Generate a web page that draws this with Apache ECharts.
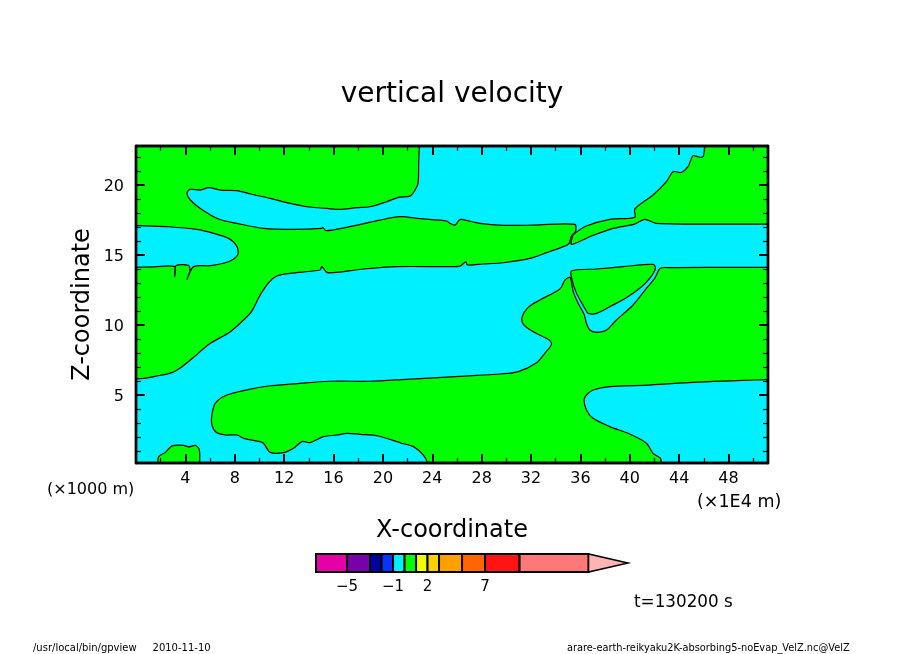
<!DOCTYPE html>
<html>
<head>
<meta charset="utf-8">
<script src="https://cdn.jsdelivr.net/npm/echarts@6/dist/echarts.min.js"></script>
<style>
  html, body { margin: 0; padding: 0; background: #fff; }
  #main { width: 904px; height: 654px; }
</style>
</head>
<body>
<div id="main"></div>
<script>
// axis ticks
var xMajor = [4, 8, 12, 16, 20, 24, 28, 32, 36, 40, 44, 48];
var xMinor = [2, 6, 10, 14, 18, 22, 26, 30, 34, 38, 42, 46, 50];
var zMajor = [5, 10, 15, 20];
var zMinor = [1, 2, 3, 4, 6, 7, 8, 9, 11, 12, 13, 14, 16, 17, 18, 19, 21, 22];

// colour bar
var barLevels = [-7.7, -5, -3, -2, -1, 0, 1, 2, 3, 5, 7, 10, 16];
var barColors = ['#e600a8', '#7a00aa', '#0000a0', '#0a32ff', '#00f0ff', '#00ff00',
  '#f0ff00', '#ffd000', '#ffa000', '#ff6600', '#ff1414', '#ff7878'];
var barTicks = [-5, -1, 2, 7];
var barEnd = 19.43;

// green (positive) regions, [x, z]; the rest of the plot is cyan.
// points on the plot edge run a little past it, the series clips them
var greenUpper = [[-1.5,24.3],[23,24.3],[22.96,22.8],[22.9,21.67],[22.85,20.12],[22.6,19.64],[22.2,19.21],[21.26,19.12],
  [20.31,18.81],[18.96,18.45],[17.89,18.38],[16.54,18.26],[15.46,18.33],[13.84,18.45],[12.22,18.74],
  [10.87,19.05],[9.26,19.36],[8.18,19.6],[6.83,19.64],[5.88,19.81],[5.21,19.64],[4.35,19.69],[4.13,19.4],
  [4.4,18.93],[5.21,18.33],[6.69,17.57],[8.18,17.26],[10.33,16.9],[12.76,16.83],[15.05,16.9],[15.13,16.98],
  [15.4,16.74],[17.08,16.98],[19.77,17.5],[21.39,17.74],[23.01,17.6],[25.17,17.43],[25.44,17.26],[25.84,17.14],
  [26.19,17.5],[26.38,17.55],[27.86,17.26],[29.75,17.12],[32.31,17.14],[35.55,17.19],[35.6,16.67],[35.28,16.36],
  [35.06,15.79],[34.47,15.55],[33.26,15.17],[31.91,14.76],[29.75,14.45],[28.13,14.36],[26.84,14.29],[26.73,14.52],
  [26.25,14.21],[25.44,14.17],[21.12,14.17],[18.43,14],[16,13.74],[15.46,13.76],[15.05,14.17],[14.92,13.93],
  [12.49,13.69],[11.41,13.5],[10.74,13.02],[10.06,12.14],[9.85,11.79],[9.47,11.12],[9.12,10.71],[7.64,9.52],
  [6.02,8.69],[4.67,7.69],[3.73,7.02],[2.92,6.6],[1.7,6.36],[0.63,6.19],[-0.5,6.15],[-1.5,6.15],[-1.5,14.12],[-0.5,14.12],
  [1.5,14.15],[3.13,14.17],[3.13,13.45],[3.24,14.24],[4.27,14.24],[4.35,13.81],[4.13,13.26],[4.67,14.17],[6.02,14.24],[7.5,14.52],
  [8.23,15],[8.18,15.6],[7.5,16.19],[6.29,16.55],[4.94,16.83],[2.65,17.02],[0.8,17.08],[-0.5,17.12],[-1.5,17.15]];

var greenTopRight = [[46.1,24.3],[52.7,24.3],[52.7,17.21],[51.7,17.21],[49.17,17.21],[42.16,17.26],[41.21,17.55],[40.4,17.21],
  [38.65,16.9],[36.76,16.31],[35.28,15.76],[35.36,16.31],[35.55,16.55],[36.49,17.07],[38.38,17.55],[40.4,17.69],
  [40.4,18.26],[40.94,18.69],[41.89,19.29],[42.97,20.24],[43.51,20.95],[44.18,20.9],[44.72,21.31],[45.12,22.1],
  [45.53,22.02],[45.93,22.02],[46.07,22.8]];

var greenLower = [[42.48,14.05],[43.24,14.1],[46.74,14.12],[51.7,14.12],[52.7,14.12],[52.7,6.15],[51.7,6.12],[48.63,6.02],[45.12,5.9],
  [41.62,5.71],[38.38,5.6],[37.03,5.36],[36.49,5],[36.3,4.64],[36.49,3.93],[37.03,3.33],[38.38,2.74],[40,2.21],
  [41.35,1.55],[41.89,0.83],[42.48,0.48],[42.56,0.14],[42.7,-1.3],[24.1,-1.3],[23.63,0.14],[23.28,0.71],[22.47,1.31],[21.53,1.55],
  [19.64,2.07],[18.16,2.19],[17.08,2.26],[16.27,2.14],[15.19,2.02],[14.11,1.6],[13.44,1.67],[12.76,1.19],
  [11.95,0.88],[10.87,0.9],[10.33,1.55],[9.93,1.69],[8.72,1.9],[8.18,2.14],[7.23,2.14],[6.5,2.33],[6.15,2.86],
  [6.15,3.57],[6.42,4.4],[7.23,4.95],[8.99,5.36],[10.74,5.64],[12.76,5.79],[15.73,5.98],[18.96,5.98],[21.93,6.12],
  [26.25,6.33],[27.6,6.4],[29.48,6.5],[30.97,6.67],[32.45,7.31],[33.12,7.98],[33.66,8.62],[33.47,8.93],[32.18,9.52],
  [31.37,10.07],[31.29,10.6],[31.77,11.26],[32.72,11.79],[34.34,12.57],[34.74,13.21],[35.01,13.38],[35.2,13.38],
  [35.42,12.38],[35.82,11.55],[36.3,10.76],[36.49,10.12],[36.76,9.64],[37.3,9.48],[38.11,9.64],[38.92,10.36],
  [40.27,11.43],[41.35,12.62],[42.02,13.33]];

var greenWedge = [[35.28,13.86],[37.3,14],[39.46,14.17],[41.89,14.33],[42.08,14.05],[41.62,13.33],[40.81,12.62],
  [39.73,11.95],[38.38,11.31],[37.3,10.83],[36.63,10.83],[36.44,11.07],[36.17,11.48],[35.69,12.26],[35.33,13.21]];

var greenBottomLeft = [[1.6,-1.3],[1.76,0.14],[1.84,0.6],[2.38,0.9],[2.92,1.36],[3.86,1.4],[4.27,1.29],[4.81,1.4],[5.13,1.07],[5.16,0.14],[5.2,-1.3]];

var regions = [greenUpper, greenTopRight, greenLower, greenWedge, greenBottomLeft];

function makeX(pos, values, len, width, labels) {
  return {
    type: 'value', gridIndex: 0, position: pos, min: 0, max: 51.2, z: 5,
    axisLine: { show: true, onZero: false, lineStyle: { color: '#000', width: 2.4 } },
    axisTick: { show: true, inside: true, length: len, customValues: values, lineStyle: { color: '#000', width: width } },
    axisLabel: labels ? { show: true, customValues: values, margin: 8, fontFamily: 'DejaVu Sans', fontSize: 16, color: '#000' } : { show: false },
    splitLine: { show: false }
  };
}
function makeZ(pos, values, len, width, labels) {
  return {
    type: 'value', gridIndex: 0, position: pos, min: 0.14, max: 22.79, z: 5,
    axisLine: { show: true, onZero: false, lineStyle: { color: '#000', width: 2.4 } },
    axisTick: { show: true, inside: true, length: len, customValues: values, lineStyle: { color: '#000', width: width } },
    // lineHeight + top align nudges the text just below its tick, as in the plot
    axisLabel: labels ? { show: true, customValues: values, margin: 12, verticalAlign: 'top', lineHeight: 3, fontFamily: 'DejaVu Sans', fontSize: 16, color: '#000' } : { show: false },
    splitLine: { show: false }
  };
}

var xAxes = [makeX('bottom', xMajor, 9, 2, true), makeX('bottom', xMinor, 5, 1.2), makeX('top', xMajor, 9, 2), makeX('top', xMinor, 5, 1.2)];
xAxes[0].name = 'X-coordinate';
xAxes[0].nameLocation = 'middle';
xAxes[0].nameGap = 68;
xAxes[0].nameMoveOverlap = false;
xAxes[0].nameTextStyle = { fontFamily: 'DejaVu Sans', fontSize: 24, color: '#000', verticalAlign: 'middle' };
xAxes.push({
  type: 'value', gridIndex: 1, min: barLevels[0], max: barEnd,
  axisLine: { show: false }, axisTick: { show: false }, splitLine: { show: false },
  axisLabel: {
    show: true, customValues: barTicks, margin: 8, fontFamily: 'DejaVu Sans', fontSize: 15, color: '#000',
    formatter: function (v) { return String(v).replace('-', '\u2212'); }
  }
});

var zAxes = [makeZ('left', zMajor, 9, 2, true), makeZ('left', zMinor, 5, 1.2), makeZ('right', zMajor, 9, 2), makeZ('right', zMinor, 5, 1.2)];
zAxes[0].name = 'Z-coordinate';
zAxes[0].nameLocation = 'middle';
zAxes[0].nameGap = 53;
zAxes[0].nameMoveOverlap = false;
zAxes[0].nameTextStyle = { fontFamily: 'DejaVu Sans', fontSize: 24, color: '#000', verticalAlign: 'middle' };
zAxes.push({ type: 'value', gridIndex: 1, min: 0, max: 1, show: false });

function label(text, x, y, size, align) {
  return {
    type: 'text', x: x, y: y, silent: true,
    style: { text: text, fontFamily: 'DejaVu Sans', fontSize: size, fill: '#000', textAlign: align || 'left', textVerticalAlign: 'middle' }
  };
}

var myChart = echarts.init(document.getElementById('main'), null, { renderer: 'canvas' });

var option = {
  animation: false,
  backgroundColor: '#fff',
  title: {
    text: 'vertical velocity', left: 'center', top: 76,
    textStyle: { fontFamily: 'DejaVu Sans', fontSize: 28, fontWeight: 'normal', color: '#000' }
  },
  grid: [
    { left: 136, top: 146, width: 632, height: 317, show: true, backgroundColor: '#00f0ff', borderWidth: 0 },
    { left: 316, top: 554, width: 312, height: 18, show: false }
  ],
  xAxis: xAxes,
  yAxis: zAxes,
  series: [
    {
      type: 'custom', coordinateSystem: 'cartesian2d', xAxisIndex: 0, yAxisIndex: 0, silent: true, clip: true,
      data: regions.map(function (r, i) { return [i]; }),
      encode: { x: 0 },
      renderItem: function (params, api) {
        return {
          type: 'polygon',
          shape: { points: regions[params.dataIndex].map(function (p) { return api.coord(p); }), smooth: 0.3 },
          style: { fill: '#00ff00', stroke: '#000', lineWidth: 1.2 }
        };
      }
    },
    {
      // colour bar cells
      type: 'custom', coordinateSystem: 'cartesian2d', xAxisIndex: 4, yAxisIndex: 4, silent: true,
      data: barColors.map(function (c, i) { return [barLevels[i]]; }),
      encode: { x: 0 },
      renderItem: function (params, api) {
        var i = params.dataIndex;
        var a = api.coord([barLevels[i], 0]);
        var b = api.coord([barLevels[i + 1], 1]);
        return {
          type: 'rect',
          shape: { x: a[0], y: b[1], width: b[0] - a[0], height: a[1] - b[1] },
          style: { fill: barColors[i], stroke: '#000', lineWidth: 2 }
        };
      }
    },
    {
      // colour bar arrow tip
      type: 'custom', coordinateSystem: 'cartesian2d', xAxisIndex: 4, yAxisIndex: 4, silent: true,
      data: [[barEnd]],
      encode: { x: 0 },
      renderItem: function (params, api) {
        var last = barLevels[barLevels.length - 1];
        return {
          type: 'polygon',
          shape: { points: [api.coord([last, 0]), api.coord([last, 1]), api.coord([barEnd, 0.5])] },
          style: { fill: '#ffb4b4', stroke: '#000', lineWidth: 1.5 }
        };
      }
    }
  ],
  graphic: [
    label('(\u00d71000 m)', 47, 490, 16),
    label('(\u00d71E4 m)', 697, 502, 17.5),
    label('t=130200 s', 634, 603, 16.8),
    label('/usr/local/bin/gpview     2010-11-10', 33, 648, 10),
    label('arare-earth-reikyaku2K-absorbing5-noEvap_VelZ.nc@VelZ', 567, 648, 9.8)
  ]
};

myChart.setOption(option);
</script>
</body>
</html>
